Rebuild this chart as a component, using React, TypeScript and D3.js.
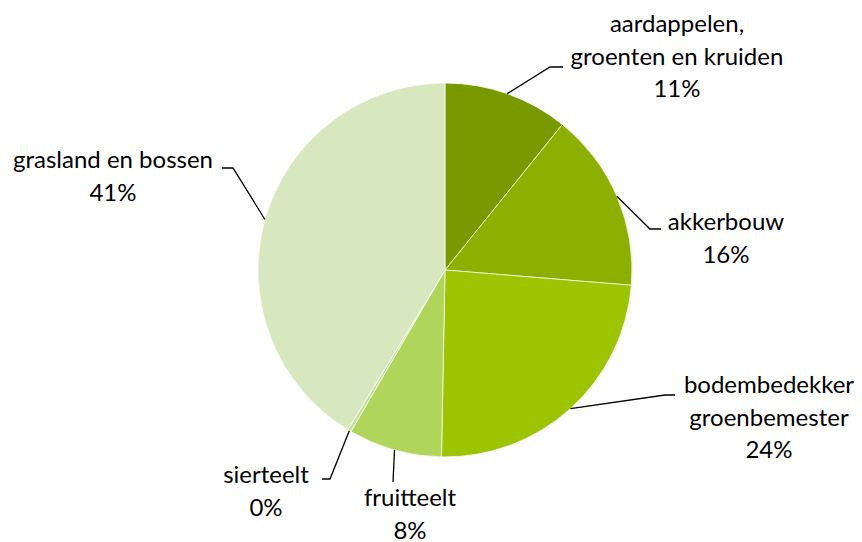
import React from "react";
import * as d3 from "d3";

const categories = [
  "aardappelen, groenten en kruiden",
  "akkerbouw",
  "bodembedekker groenbemester",
  "fruitteelt",
  "sierteelt",
  "grasland en bossen",
];
const values = [10.8, 15.5, 24.0, 8.1, 0.3, 41.3];
const percentLabels = ["11%", "16%", "24%", "8%", "0%", "41%"];
const labelLines = [
  ["aardappelen,", "groenten en kruiden", percentLabels[0]],
  ["akkerbouw", percentLabels[1]],
  ["bodembedekker", "groenbemester", percentLabels[2]],
  ["fruitteelt", percentLabels[3]],
  ["sierteelt", percentLabels[4]],
  ["grasland en bossen", percentLabels[5]],
];
const colors = ["#789900", "#8db000", "#9cc400", "#b1d45b", "#c6df9c", "#d7e8be"];

const labelLayout = [
  { elbow: [550, 67], end: [563, 67], cx: 677, y0: 32 },
  { elbow: [650, 229], end: [661, 229], cx: 726, y0: 230 },
  { elbow: [665, 395], end: [675, 395], cx: 769, y0: 393 },
  { elbow: [393, 482], end: [393, 482], cx: 410, y0: 506 },
  { elbow: [330, 479], end: [322, 479], cx: 266, y0: 483 },
  { elbow: [233, 168], end: [222, 168], cx: 113, y0: 168 },
];

const W = 862;
const H = 542;
const cx = 445;
const cy = 270;
const R = 187;
const lineH = 32.5;

export default function App() {
  const pie = d3.pie<number>().sort(null).value((d) => d)(values);
  const arc = d3.arc<d3.PieArcDatum<number>>().innerRadius(0).outerRadius(R);
  return (
    <svg width={W} height={H} style={{ position: "absolute", left: 0, top: 0 }}
      fontFamily="Lato, 'Open Sans', sans-serif">
      <rect width={W} height={H} fill="#fff" />
      <g transform={`translate(${cx},${cy})`}>
        {pie.map((p, i) => (
          <path key={categories[i]} d={arc(p) || ""} fill={colors[i]} stroke="#fff" strokeWidth={0.7} />
        ))}
      </g>
      {pie.map((p, i) => {
        const mid = (p.startAngle + p.endAngle) / 2;
        const sx = cx + R * Math.sin(mid);
        const sy = cy - R * Math.cos(mid);
        const L = labelLayout[i];
        return (
          <g key={"l" + i}>
            <polyline
              points={`${sx},${sy} ${L.elbow[0]},${L.elbow[1]} ${L.end[0]},${L.end[1]}`}
              fill="none" stroke="#000" strokeWidth={1.3} />
            {labelLines[i].map((t, j) => (
              <text key={j} x={L.cx} y={L.y0 + j * lineH} textAnchor="middle" fontSize={24} fill="#000">
                {t}
              </text>
            ))}
          </g>
        );
      })}
    </svg>
  );
}
